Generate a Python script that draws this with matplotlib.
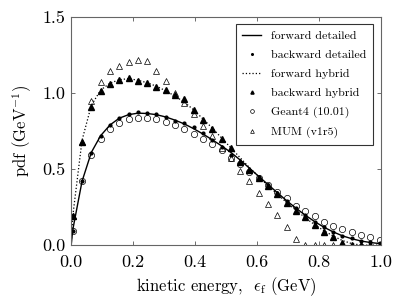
import numpy as np
import matplotlib
matplotlib.use("Agg")
import matplotlib.pyplot as plt

plt.rcParams['font.family'] = ['cmr10', 'DejaVu Serif']
plt.rcParams['mathtext.fontset'] = 'cm'
plt.rcParams['axes.formatter.use_mathtext'] = True

# bin centres (GeV)
x = [0.005 + 0.03 * i for i in range(34)]

fwd_detailed_x = [0.0] + x
fwd_detailed = [0.0, 0.10, 0.42, 0.61, 0.72, 0.79, 0.835, 0.858, 0.868, 0.866, 0.858,
                0.843, 0.822, 0.797, 0.766, 0.731, 0.693, 0.653, 0.610, 0.560, 0.506,
                0.452, 0.398, 0.345, 0.292, 0.243, 0.197, 0.155, 0.118, 0.087, 0.061,
                0.042, 0.027, 0.017, 0.010]

bwd_detailed = [0.094, 0.42, 0.603, 0.719, 0.792, 0.835, 0.86, 0.873, 0.871, 0.862,
                0.845, 0.818, 0.80, 0.778, 0.735, 0.69, 0.647, 0.592, 0.545, 0.497,
                0.45, 0.398, 0.345, 0.29, 0.241, 0.197, 0.153, 0.116, 0.088, 0.061,
                0.044, 0.028, 0.018, 0.011]

fwd_hybrid_x = [0.0] + x
fwd_hybrid = [0.0, 0.19, 0.69, 0.92, 1.02, 1.065, 1.088, 1.095, 1.085, 1.068, 1.045,
              1.015, 0.98, 0.94, 0.89, 0.83, 0.77, 0.705, 0.64, 0.575, 0.51, 0.45,
              0.39, 0.335, 0.28, 0.23, 0.18, 0.135, 0.095, 0.06, 0.03, 0.01, 0.0,
              0.0, 0.0]

bwd_hybrid = [0.19, 0.68, 0.906, 1.013, 1.057, 1.083, 1.097, 1.077, 1.068, 1.042,
              1.02, 0.99, 0.96, 0.886, 0.825, 0.766, 0.698, 0.638, 0.55, 0.493,
              0.44, 0.39, 0.335, 0.274, 0.226, 0.186, 0.132, 0.088, 0.055, 0.014,
              0.003, 0.0, 0.0, 0.0]

geant4 = [0.094, 0.42, 0.592, 0.697, 0.761, 0.80, 0.829, 0.833, 0.833, 0.827,
          0.813, 0.792, 0.761, 0.728, 0.695, 0.664, 0.625, 0.575, 0.533, 0.482,
          0.439, 0.395, 0.349, 0.31, 0.259, 0.224, 0.191, 0.153, 0.127, 0.103,
          0.088, 0.068, 0.051, 0.033]

mum = [0.19, 0.68, 0.947, 1.073, 1.145, 1.178, 1.204, 1.22, 1.208, 1.145,
       1.077, 1.0, 0.935, 0.862, 0.785, 0.715, 0.64, 0.572, 0.489, 0.42,
       0.342, 0.27, 0.196, 0.116, 0.041, 0.0, 0.0, 0.0, 0.0, 0.0,
       np.nan, np.nan, np.nan, np.nan]

fig = plt.figure(figsize=(4, 3), dpi=100)
ax = fig.add_axes([0.178, 0.183, 0.775, 0.76])

ax.plot(fwd_detailed_x, fwd_detailed, '-', color='black', lw=1.0, label='forward detailed')
ax.plot(x, bwd_detailed, 'o', color='black', ms=2.0, ls='none', label='backward detailed')
ax.plot(fwd_hybrid_x, fwd_hybrid, ':', color='black', lw=0.9, label='forward hybrid')
ax.plot(x, bwd_hybrid, '^', color='black', ms=3.8, ls='none', label='backward hybrid')
ax.plot(x, geant4, 'o', mfc='none', mec='black', mew=0.5, ms=4.5, ls='none', label='Geant4 (10.01)')
ax.plot(x, mum, '^', mfc='none', mec='black', mew=0.5, ms=4.5, ls='none', label='MUM (v1r5)')

ax.set_xlim(0, 1.0)
ax.set_ylim(0, 1.5)
ax.set_xticks([0.0, 0.2, 0.4, 0.6, 0.8, 1.0])
ax.set_yticks([0.0, 0.5, 1.0, 1.5])
ax.set_xticklabels(['0.0', '0.2', '0.4', '0.6', '0.8', '1.0'])
ax.set_yticklabels(['0.0', '0.5', '1.0', '1.5'])
ax.tick_params(direction='in', top=True, right=True, length=3, width=0.6,
               color='#555555', labelsize=13)
ax.tick_params(axis='x', pad=7)
ax.tick_params(axis='y', pad=4)
for s in ax.spines.values():
    s.set_color('#666666')
    s.set_linewidth(0.8)

ax.set_xlabel(r'kinetic energy,  $\epsilon_{\rm f}$ (GeV)', fontsize=12, labelpad=4)
ax.set_ylabel(r'pdf (GeV$^{-1}$)', fontsize=12, labelpad=6)

leg = ax.legend(loc='upper right', fontsize=8.6, frameon=True, fancybox=False,
                edgecolor='black', handlelength=1.6, markerscale=0.6,
                borderpad=0.55, labelspacing=0.72, handletextpad=0.8,
                borderaxespad=0.3, bbox_to_anchor=(0.985, 0.985))
leg.get_frame().set_linewidth(0.8)

fig.savefig('out.png', dpi=100)
